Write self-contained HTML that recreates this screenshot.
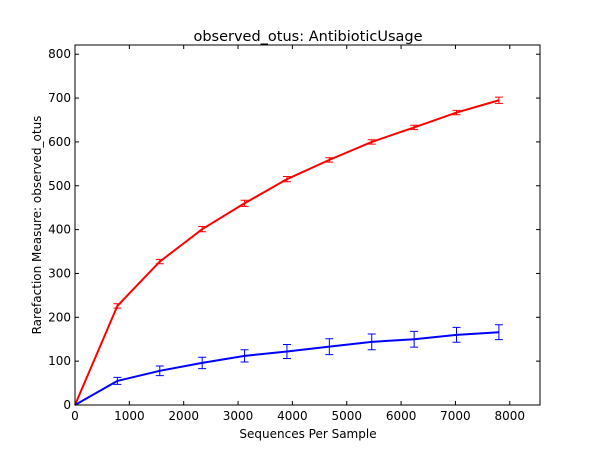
<!DOCTYPE html>
<html><head><meta charset="utf-8">
<style>
html,body{margin:0;padding:0;background:#fff;}
svg text{font-family:"DejaVu Sans","Liberation Sans",sans-serif;}
</style></head>
<body>
<svg id="chart" width="600" height="450" viewBox="0 0 600 450" xmlns="http://www.w3.org/2000/svg">
<rect width="600" height="450" fill="#fff"/>
<text x="308" y="41" font-size="14.5" text-anchor="middle">observed_otus: AntibioticUsage</text>
<text x="308" y="438" font-size="12" text-anchor="middle">Sequences Per Sample</text>
<text transform="translate(41,225) rotate(-90)" font-size="12" text-anchor="middle">Rarefaction Measure: observed_otus</text>
<g id="ticks"></g>
<g id="series"></g>
<rect x="75" y="45" width="465" height="360" fill="none" stroke="#000" stroke-width="1"/>
</svg>
<script>
const xValues = [0, 780, 1560, 2340, 3120, 3900, 4680, 5460, 6240, 7020, 7800];
const redValues = [0, 226, 327, 401, 460, 515, 559, 600, 633, 667, 695];
const redErrors = [0, 5, 5, 6, 7, 6, 5, 5, 5, 5, 7];
const blueValues = [0, 55, 78, 96, 112, 122, 133, 144, 150, 160, 166];
const blueErrors = [0, 8, 11, 13, 14, 16, 18, 18, 18, 17, 17];
const xTicks = [0, 1000, 2000, 3000, 4000, 5000, 6000, 7000, 8000];
const yTicks = [0, 100, 200, 300, 400, 500, 600, 700, 800];

const X0 = 75, X1 = 540, Y0 = 405, Y1 = 45, XMAX = 8556, YMAX = 821;
function sx(v){ return X0 + v / XMAX * (X1 - X0); }
function sy(v){ return Y0 - v / YMAX * (Y0 - Y1); }
const NS = "http://www.w3.org/2000/svg";
function mk(tag, attrs, parent){
  const e = document.createElementNS(NS, tag);
  for (const k in attrs) e.setAttribute(k, attrs[k]);
  parent.appendChild(e); return e;
}
const tg = document.getElementById('ticks');
xTicks.forEach(t => {
  const x = sx(t);
  const a = mk('line', {x1:x, x2:x, y1:Y0, y2:Y0-4, stroke:'#000'}, tg);
  
  
  const b = mk('line', {x1:x, x2:x, y1:Y1, y2:Y1+4, stroke:'#000'}, tg);
  
  
  const l = mk('text', {x:x, y:Y0+15, 'font-size':12, 'text-anchor':'middle'}, tg);
  l.textContent = t;
  
  
});
yTicks.forEach(t => {
  const y = sy(t);
  const a = mk('line', {x1:X0, x2:X0+4, y1:y, y2:y, stroke:'#000'}, tg);
  
  
  const b = mk('line', {x1:X1, x2:X1-4, y1:y, y2:y, stroke:'#000'}, tg);
  
  
  const l = mk('text', {x:X0-4, y:y+4, 'font-size':12, 'text-anchor':'end'}, tg);
  l.textContent = t;
  
  
});
const sg = document.getElementById('series');
function drawSeries(vals, errs, color, name){
  const g = mk('g', {}, sg);
  
  
  const pts = vals.map((v,i) => sx(xValues[i]) + ',' + sy(v)).join(' ');
  const pl = mk('polyline', {points:pts, fill:'none', stroke:color, 'stroke-width':2}, g);
  
  
  vals.forEach((v,i) => {
    if (!errs[i]) return;
    const x = sx(xValues[i]), yt = sy(v + errs[i]), yb = sy(v - errs[i]);
    const e = mk('path', {d:`M${x},${yt}V${yb}M${x-4},${yt}H${x+4}M${x-4},${yb}H${x+4}`, stroke:color, 'stroke-width':1, fill:'none'}, g);
    
    
  });
}
drawSeries(redValues, redErrors, '#ff0000', 'red');
drawSeries(blueValues, blueErrors, '#0000ff', 'blue');
</script>
</body></html>
